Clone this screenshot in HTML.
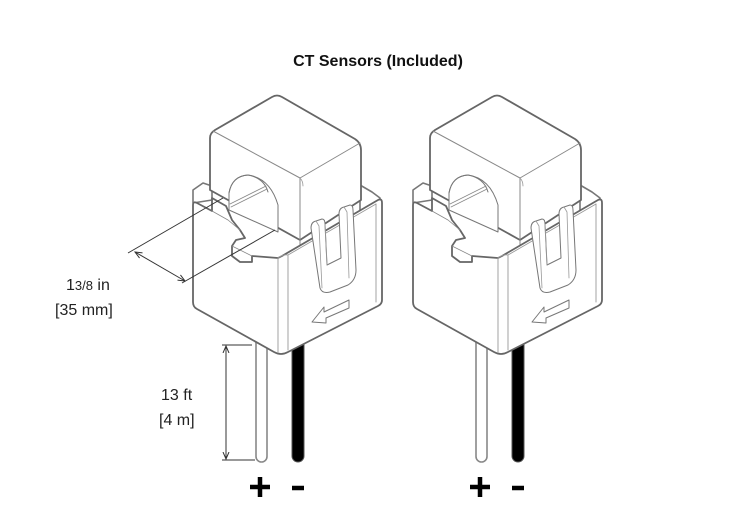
<!DOCTYPE html>
<html><head><meta charset="utf-8"><style>
body{margin:0;background:#fff;width:738px;height:524px;overflow:hidden}
svg{display:block}
text{font-family:"Liberation Sans",sans-serif}
</style></head><body>
<svg width="738" height="524" viewBox="0 0 738 524" xmlns="http://www.w3.org/2000/svg">
<text x="378" y="66" text-anchor="middle" font-size="16" font-weight="bold" fill="#111">CT Sensors (Included)</text>
<defs>
<g id="s" stroke-linejoin="round" stroke-linecap="round">
 <!-- wires -->
 <rect x="256" y="330" width="11" height="132" rx="5.5" fill="#fff" stroke="#888" stroke-width="1.6"/>
 <rect x="292" y="330" width="12" height="132" rx="6" fill="#000" stroke="#555" stroke-width="1"/>
 <!-- back rim of lower box -->
 <path d="M193,203 L193,190 L203,183 L212,186 L212,200 Z" fill="#fff" stroke="#777" stroke-width="1.6"/>
 <path d="M360,185 L372,192 L380,198 L380,210 L360,210 Z" fill="#fff" stroke="#777" stroke-width="1.6"/>
 <!-- cube -->
 <path d="M210,138 Q210,133 215,130 L272,97 Q277,94 282,97 L355,139 Q361,143 361,150 L361,200 L300,240 L210,190 Z" fill="#fff" stroke="#666" stroke-width="1.8"/>
 <path d="M213,131 L300,178 L360,143" fill="none" stroke="#888" stroke-width="1"/>
 <path d="M300,178 L300,245" fill="none" stroke="#888" stroke-width="1"/>
 <path d="M300,178 Q303,181 303,186" fill="none" stroke="#999" stroke-width="0.8"/>
 <!-- hole -->
 <path d="M229,205 L229,193 Q232,176 248,175 Q270,178 278,205 L278,232 L229,210 Z" fill="#fff" stroke="#777" stroke-width="1"/>
 <path d="M229,193 Q232,176 248,175 Q264,178 268,192" fill="none" stroke="#777" stroke-width="1"/>
 <path d="M230,204 L266,186 M231,207 L267,189" stroke="#888" stroke-width="0.8"/>
 <!-- lower box -->
 <path d="M193,205 Q193,201 197,203 L212,211 L212,198 L226,206 L232,220 L240,230 L245,238 L236,240 L232,246 L232,256 L240,262 L252,262 L252,256 L278,258 L282,256 L378,200 Q382,198 382,203 L382,300 Q382,304 378,306 L288,352 Q281,356 274,352 L197,309 Q193,307 193,302 Z" fill="#fff" stroke="#666" stroke-width="1.8"/>
 <path d="M232,246 L252,256" stroke="#888" stroke-width="0.8" fill="none"/>
 <path d="M212,211 L228,220 L240,230" stroke="#888" stroke-width="0.8" fill="none"/>
 <path d="M278,258 L278,352 M288,255 L288,350" stroke="#999" stroke-width="0.9" fill="none"/>
 <path d="M278,258 Q283,254 288,255 L376,204" stroke="#999" stroke-width="0.9" fill="none"/>
 <path d="M376,204 L376,302" stroke="#999" stroke-width="0.9" fill="none"/>
 <!-- clip -->
 <path d="M311,228 Q311,222 316,221 L322,219 Q325,219 325,224 L327,265 L341,258 L339,214 Q339,208 344,207 L350,205 Q353,205 353,210 L356,270 Q356,280 348,285 L330,292 Q322,294 320,288 Z" fill="#fff" stroke="#777" stroke-width="1"/>
 <path d="M316,221 L319,226 L322,288 M344,207 L347,212 L349,278 M325,224 L327,265" stroke="#999" stroke-width="0.8" fill="none"/>
 <!-- arrow -->
 <path d="M312,322 L324,307 L324,312 L349,300 L349,308 L326,318 L326,323 Z" fill="#fff" stroke="#777" stroke-width="1"/>
 <!-- signs -->
 <path d="M250,487 H270 M260,477 V497" stroke="#000" stroke-width="4.5" stroke-linecap="butt"/>
 <path d="M292,488 H304" stroke="#000" stroke-width="4.5" stroke-linecap="butt"/>
</g>
<marker id="ah" markerWidth="8" markerHeight="8" refX="7" refY="4" orient="auto-start-reverse" markerUnits="userSpaceOnUse"><path d="M0,1 L7,4 L0,7" fill="none" stroke="#333" stroke-width="1"/></marker>
</defs>
<use href="#s"/>
<use href="#s" transform="translate(220,0)"/>
<!-- dimensions left -->
<g stroke="#333" stroke-width="1" fill="none">
 <line x1="128" y1="253" x2="223" y2="198"/>
 <line x1="182" y1="283" x2="275" y2="230"/>
 <line x1="135" y1="252" x2="185" y2="281" marker-start="url(#ah)" marker-end="url(#ah)"/>
 <line x1="222" y1="345" x2="252" y2="345"/>
 <line x1="222" y1="460" x2="255" y2="460"/>
 <line x1="226" y1="346" x2="226" y2="459" marker-start="url(#ah)" marker-end="url(#ah)"/>
</g>
<text x="66" y="290" font-size="16" fill="#222">1<tspan font-size="13">3/8</tspan> in</text>
<text x="55" y="315" font-size="16" fill="#222">[35 mm]</text>
<text x="161" y="400" font-size="16" fill="#222">13 ft</text>
<text x="159" y="425" font-size="16" fill="#222">[4 m]</text>
</svg>
</body></html>
